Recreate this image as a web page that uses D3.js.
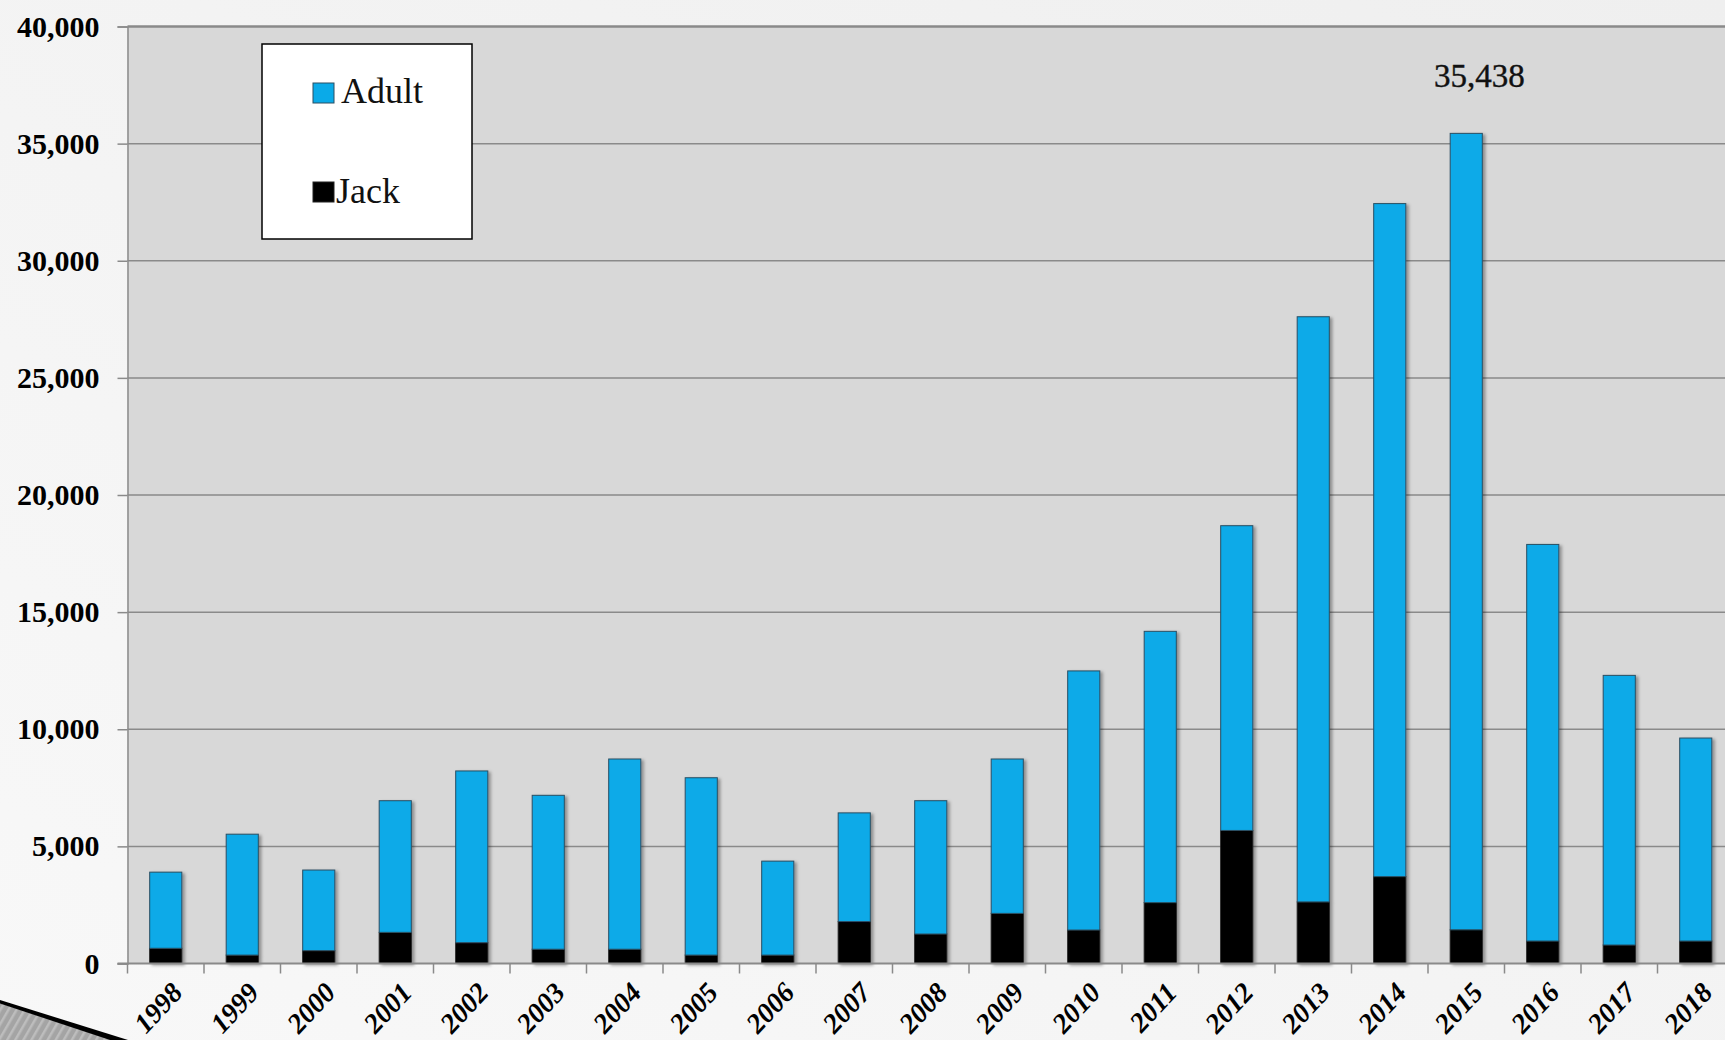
<!DOCTYPE html>
<html>
<head>
<meta charset="utf-8">
<script src="https://cdn.jsdelivr.net/npm/d3@7/dist/d3.min.js"></script>
<style>
  html, body { margin: 0; padding: 0; background: #f1f1f1; }
  svg { display: block; }
</style>
</head>
<body>
<svg id="chart" width="1725" height="1040"></svg>
<script>
// ---- data ----
const years = ["1998","1999","2000","2001","2002","2003","2004","2005","2006","2007","2008","2009","2010","2011","2012","2013","2014","2015","2016","2017","2018"];
const adult = [3250, 5160, 3440, 5620, 7330, 6570, 8120, 7570, 4010, 4640, 5690, 6590, 11060, 11580, 13010, 24980, 28730, 33998, 16930, 11510, 8665];
const jack  = [650, 360, 550, 1330, 890, 610, 610, 360, 360, 1790, 1260, 2140, 1430, 2600, 5680, 2630, 3710, 1440, 960, 790, 960];
const yTicks = [0, 5000, 10000, 15000, 20000, 25000, 30000, 35000, 40000];
const seriesNames = ["Adult", "Jack"];
const peakYear = "2015";
const peakLabel = "35,438";

// ---- layout ----
const svg = d3.select("#chart");
const W = 1725, H = 1040;
const plotL = 127.5, plotR = 1734, plotT = 26.5, plotB = 963.5;
const colors = { Adult: "#0aaae8", Jack: "#000000" };
const serif = "'Liberation Serif', 'Times New Roman', serif";

const defs = svg.append("defs");
const bg = defs.append("linearGradient").attr("id", "bg").attr("x1", "0").attr("y1", "1").attr("x2", "1").attr("y2", "0");
bg.append("stop").attr("offset", "0%").attr("stop-color", "#f8f8f8");
bg.append("stop").attr("offset", "100%").attr("stop-color", "#efefef");

const sh = defs.append("filter").attr("id", "shadow").attr("x", "-20%").attr("y", "-5%").attr("width", "150%").attr("height", "115%");
sh.append("feDropShadow").attr("dx", 2.5).attr("dy", 1.5).attr("stdDeviation", 1.5).attr("flood-color", "#000").attr("flood-opacity", 0.35);

const stripes = defs.append("pattern").attr("id", "stripes").attr("patternUnits", "userSpaceOnUse")
  .attr("width", 7).attr("height", 7).attr("patternTransform", "rotate(30)");
stripes.append("rect").attr("width", 7).attr("height", 7).attr("fill", "#a4a4a4");
stripes.append("rect").attr("width", 2.5).attr("height", 7).attr("fill", "#bdbdbd");

svg.append("rect").attr("width", W).attr("height", H).attr("fill", "url(#bg)");

// scales
const x = d3.scaleBand().domain(years).range([plotL, plotR]).padding(0);
const y = d3.scaleLinear().domain([0, 40000]).range([plotB, plotT]);
const barW = x.bandwidth() * 0.42;

// plot area
svg.append("rect").attr("x", plotL).attr("y", plotT).attr("width", plotR - plotL).attr("height", plotB - plotT)
  .attr("fill", "#d8d8d8");

// gridlines
svg.append("g").selectAll("line").data(yTicks.filter(d => d > 0)).join("line")
  .attr("x1", plotL).attr("x2", plotR)
  .attr("y1", d => y(d)).attr("y2", d => y(d))
  .attr("stroke", "#8a8a8a").attr("stroke-width", d => d === 40000 ? 2.5 : 1.5);

// stacked bars
const stackData = years.map((yr, i) => ({ year: yr, Jack: jack[i], Adult: adult[i] }));
const stack = d3.stack().keys(["Jack", "Adult"])(stackData);
const gBars = svg.append("g").attr("filter", "url(#shadow)");
stack.forEach(layer => {
  gBars.append("g").selectAll("rect").data(layer).join("rect")
    .attr("x", d => x(d.data.year) + (x.bandwidth() - barW) / 2)
    .attr("width", barW)
    .attr("y", d => y(d[1]))
    .attr("height", d => y(d[0]) - y(d[1]))
    .attr("fill", colors[layer.key])
    .attr("stroke", layer.key === "Adult" ? "#2b4f63" : "#222")
    .attr("stroke-width", 1);
});

// y axis
const yAxis = svg.append("g").attr("transform", `translate(${plotL},0)`)
  .call(d3.axisLeft(y).tickValues(yTicks).tickSize(10).tickPadding(18).tickFormat(d3.format(",")));
yAxis.select(".domain").attr("stroke", "#8a8a8a").attr("stroke-width", 1.5);
yAxis.selectAll(".tick line").attr("stroke", "#8a8a8a").attr("stroke-width", 1.5);
yAxis.selectAll(".tick text").attr("font-family", serif).attr("font-size", 30).attr("font-weight", "bold").attr("fill", "#000");

// x axis baseline and boundary ticks
const xg = svg.append("g");
xg.append("line").attr("x1", plotL - 10).attr("x2", plotR).attr("y1", plotB).attr("y2", plotB)
  .attr("stroke", "#8a8a8a").attr("stroke-width", 2);
xg.selectAll("line.tk").data(years).join("line").attr("class", "tk")
  .attr("x1", d => x(d)).attr("x2", d => x(d))
  .attr("y1", plotB).attr("y2", plotB + 10)
  .attr("stroke", "#8a8a8a").attr("stroke-width", 1.5);
xg.selectAll("text").data(years).join("text")
  .attr("transform", d => `translate(${x(d) + x.bandwidth() / 2 + 3},${plotB + 16}) rotate(-47)`)
  .attr("text-anchor", "end").attr("dy", "0.75em")
  .attr("font-family", serif).attr("font-size", 28).attr("font-style", "italic").attr("font-weight", "bold")
  .attr("fill", "#000")
  .text(d => d);

// peak label
const pi = years.indexOf(peakYear);
svg.append("text")
  .attr("x", x(peakYear) + x.bandwidth() / 2 + 13)
  .attr("y", y(adult[pi] + jack[pi]) - 46)
  .attr("text-anchor", "middle")
  .attr("font-family", serif).attr("font-size", 33).attr("fill", "#111")
  .attr("stroke", "#111").attr("stroke-width", 0.4)
  .text(peakLabel);

// legend
const lg = svg.append("g");
lg.append("rect").attr("x", 262).attr("y", 44).attr("width", 210).attr("height", 195)
  .attr("fill", "#fff").attr("stroke", "#000").attr("stroke-width", 1.5);
const legendRows = [
  { name: seriesNames[0], sy: 83, ty: 103, tx: 341 },
  { name: seriesNames[1], sy: 182, ty: 203, tx: 336 }
];
legendRows.forEach(r => {
  lg.append("rect").attr("x", 313).attr("y", r.sy).attr("width", 21).attr("height", 20)
    .attr("fill", colors[r.name]).attr("stroke", r.name === "Adult" ? "#2b4f63" : "#222").attr("stroke-width", 1);
  lg.append("text").attr("x", r.tx).attr("y", r.ty)
    .attr("font-family", serif).attr("font-size", 36).attr("fill", "#111")
    .text(r.name);
});

// decorative corner wedge (slide theme)
svg.append("polygon").attr("points", "0,1003 112,1040 0,1040").attr("fill", "url(#stripes)");
svg.append("polygon").attr("points", "0,1000 128,1040 110,1040 0,1003.5").attr("fill", "#000");
</script>
</body>
</html>
